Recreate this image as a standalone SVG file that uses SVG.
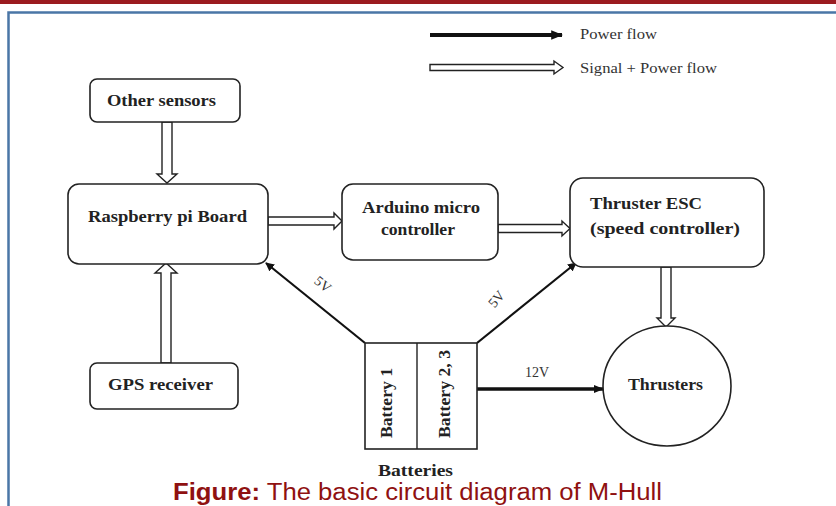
<svg xmlns="http://www.w3.org/2000/svg" width="836" height="506" viewBox="0 0 836 506">
<style>
.box{fill:#fff;stroke:#222;stroke-width:1.6}
.lbl{font-family:"Liberation Serif","Times New Roman",serif;font-weight:bold;font-size:16px;fill:#222}
.sm{font-family:"Liberation Serif","Times New Roman",serif;font-size:14px;fill:#333}
.hol{fill:#fff;stroke:#222;stroke-width:1.4;stroke-linejoin:miter}
.pw{stroke:#111;fill:none}
.cap{font-family:"Liberation Sans",Arial,sans-serif;font-size:23px;fill:#8f1111}
</style>
<defs>
<marker id="ah" viewBox="0 0 10 10" refX="9" refY="5" markerWidth="4" markerHeight="4" orient="auto" markerUnits="strokeWidth">
<path d="M0,0 L10,5 L0,10 z" fill="#111"/>
</marker>
<marker id="ah2" viewBox="0 0 10 10" refX="9" refY="5" markerWidth="3" markerHeight="3" orient="auto" markerUnits="strokeWidth">
<path d="M0,1 L10,5 L0,9 z" fill="#111"/>
</marker>
</defs>
<rect x="0" y="0" width="836" height="506" fill="#fff"/>
<rect x="0" y="0" width="836" height="4" fill="#9b1b20"/>
<path d="M8.5,520 L8.5,12.5 L840,12.5" fill="none" stroke="#4a76a6" stroke-width="2.5"/>

<g id="legend">
<line x1="430" y1="35" x2="562" y2="35" class="pw" stroke-width="4" marker-end="url(#ah2)"/>
<text x="580" y="39" class="sm" textLength="77" lengthAdjust="spacingAndGlyphs">Power flow</text>
<path class="hol" d="M430,64.5 H554 V61 L563,67.5 L554,74 V70.5 H430 Z"/>
<text x="580" y="73" class="sm" textLength="137" lengthAdjust="spacingAndGlyphs">Signal + Power flow</text>
</g>

<g id="connectors">
<path class="hol" d="M162,122 V174 H157 L167,183 L177,174 H172 V122 Z"/>
<path class="hol" d="M161,363 V273 H155 L166,263 L177,273 H171 V363 Z"/>
<path class="hol" d="M268,217 H334 V213 L342,221 L334,229 V225 H268 Z"/>
<path class="hol" d="M498,224.5 H562 V221 L570,228.5 L562,236 V232.5 H498 Z"/>
<path class="hol" d="M661,267 V318 H657 L666,327 L675,318 H671 V267 Z"/>
<line x1="365" y1="343" x2="266" y2="263" class="pw" stroke-width="2.2" marker-end="url(#ah)"/>
<line x1="477" y1="343" x2="576" y2="263" class="pw" stroke-width="2.2" marker-end="url(#ah)"/>
<line x1="477" y1="389" x2="603" y2="389" class="pw" stroke-width="3.5" marker-end="url(#ah2)"/>
<text class="sm" transform="translate(320,288) rotate(39)" text-anchor="middle">5V</text>
<text class="sm" transform="translate(500,302) rotate(-50)" text-anchor="middle">5V</text>
<text class="sm" x="537" y="377" text-anchor="middle">12V</text>
</g>

<g id="other-sensors">
<rect class="box" x="90" y="79" width="150" height="43" rx="7"/>
<text class="lbl" x="107" y="106" textLength="109" lengthAdjust="spacingAndGlyphs">Other sensors</text>
</g>
<g id="raspberry">
<rect class="box" x="68" y="184" width="200" height="80" rx="11"/>
<text class="lbl" x="88" y="222" textLength="159" lengthAdjust="spacingAndGlyphs">Raspberry pi Board</text>
</g>
<g id="arduino">
<rect class="box" x="342" y="184" width="156" height="76" rx="11"/>
<text class="lbl" x="362" y="213" textLength="118" lengthAdjust="spacingAndGlyphs">Arduino micro</text>
<text class="lbl" x="381" y="235" textLength="74" lengthAdjust="spacingAndGlyphs">controller</text>
</g>
<g id="esc">
<rect class="box" x="570" y="178" width="194" height="89" rx="13"/>
<text class="lbl" x="590" y="209" textLength="112" lengthAdjust="spacingAndGlyphs">Thruster ESC</text>
<text class="lbl" x="590" y="234" textLength="150" lengthAdjust="spacingAndGlyphs">(speed controller)</text>
</g>
<g id="gps">
<rect class="box" x="90" y="363" width="148" height="46" rx="7"/>
<text class="lbl" x="108" y="390" textLength="105" lengthAdjust="spacingAndGlyphs">GPS receiver</text>
</g>
<g id="thrusters">
<ellipse class="box" cx="667" cy="386" rx="64" ry="60"/>
<text class="lbl" x="628" y="390" textLength="75" lengthAdjust="spacingAndGlyphs">Thrusters</text>
</g>
<g id="batteries">
<rect class="box" x="365" y="343" width="112" height="106" rx="0"/>
<line x1="417" y1="343" x2="417" y2="449" stroke="#222" stroke-width="1.4"/>
<text class="lbl" transform="translate(392,403) rotate(-90)" text-anchor="middle" textLength="70" lengthAdjust="spacingAndGlyphs">Battery 1</text>
<text class="lbl" transform="translate(450,394) rotate(-90)" text-anchor="middle" textLength="88" lengthAdjust="spacingAndGlyphs">Battery 2, 3</text>
<text class="lbl" x="378" y="476" textLength="75" lengthAdjust="spacingAndGlyphs">Batteries</text>
</g>

<text class="cap" x="173" y="500" textLength="489" lengthAdjust="spacingAndGlyphs"><tspan font-weight="bold">Figure:</tspan> The basic circuit diagram of M-Hull</text>
</svg>
